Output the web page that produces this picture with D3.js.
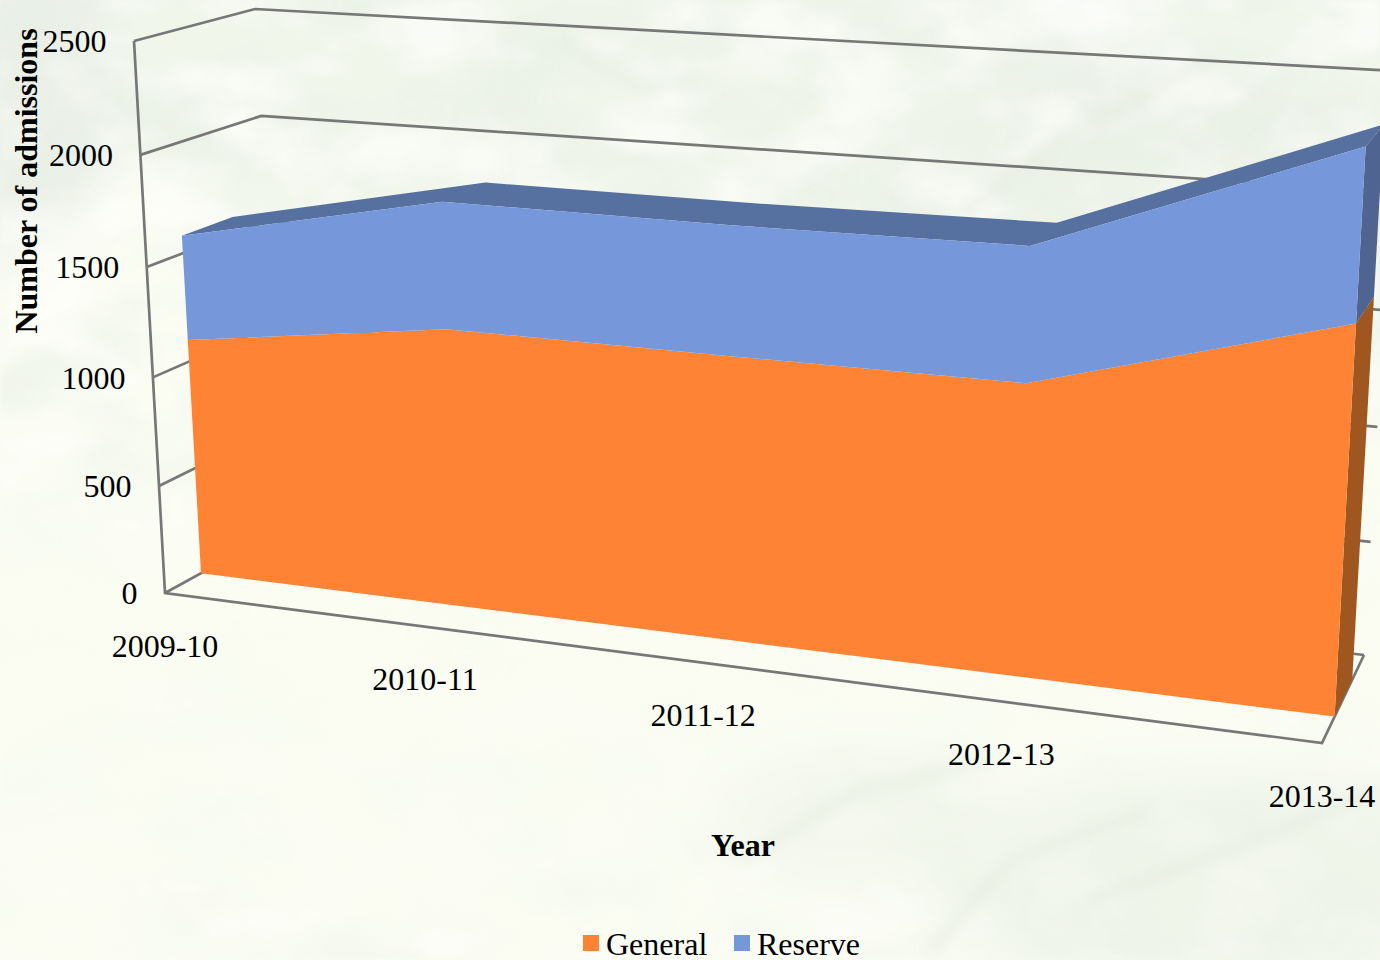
<!DOCTYPE html>
<html><head><meta charset="utf-8">
<script src="https://cdn.jsdelivr.net/npm/d3@7"></script>
<style>html,body{margin:0;padding:0;background:#fbfdf4;overflow:hidden}svg{display:block}text{font-family:"Liberation Serif",serif;fill:#000}</style>
</head><body><svg id="c" width="1380" height="960"></svg>
<script>
const categories = ["2009-10","2010-11","2011-12","2012-13","2013-14"];
const general = [1100,1263,1262,1265,1632];
const reserve = [480,567,565,575,708];
const valueTicks = [0,500,1000,1500,2000,2500];
const seriesNames = ["General","Reserve"];
const colors = {General:"#ff8335",Reserve:"#7698db"};
const topShade = "#56709f", sideBlue = "#4f6490", sideOrange = "#a0561f";
const box = {
  fl:[[165,593],[134,41]], bl:[[285,527],[255,9]],
  fr:[[1322,743],[1355,121]], br:[[1364,655],[1398,71]]
};
const areaFront = 0.3, areaBack = 0.72;

const svg = d3.select("#c");
const xUnit = d3.scalePoint().domain(categories).range([0,1]);
const yUnit = d3.scaleLinear().domain([0,2500]).range([0,1]);
const persp = k => t => t/(1+k*(1-t));
const sx = persp(0.16), sy = persp(0.04);
const lerp = (a,b,t)=>a+(b-a)*t;
function proj(cat,val,z){
  const u = sx(xUnit(cat)), v = sy(yUnit(val));
  const c = i=>{
    const f = lerp(lerp(box.fl[0][i],box.fr[0][i],u),lerp(box.fl[1][i],box.fr[1][i],u),v);
    const b = lerp(lerp(box.bl[0][i],box.br[0][i],u),lerp(box.bl[1][i],box.br[1][i],u),v);
    return lerp(f,b,z);
  };
  return [c(0),c(1)];
}
const line = d3.line().x(d=>d[0]).y(d=>d[1]);
const first = categories[0], last = categories[categories.length-1];

/* background */
const defs = svg.append("defs");
function noise(id,freq,seed,rgb,gain,off){
  const f = defs.append("filter").attr("id",id).attr("x",0).attr("y",0).attr("width","100%").attr("height","100%");
  f.append("feTurbulence").attr("type","fractalNoise").attr("baseFrequency",freq).attr("numOctaves",4).attr("seed",seed);
  f.append("feColorMatrix").attr("type","matrix").attr("values",`0 0 0 0 ${rgb[0]}  0 0 0 0 ${rgb[1]}  0 0 0 0 ${rgb[2]}  ${gain} 0 0 0 ${off}`);
  f.append("feGaussianBlur").attr("stdDeviation",2.5);
}
noise("mottleG","0.007 0.012",11,[0.80,0.86,0.78],2.6,-1.02);
noise("mottleW","0.010 0.016",29,[1,1,0.98],3.0,-1.25);
const blur = defs.append("filter").attr("id","soft").attr("x","-30%").attr("y","-30%").attr("width","160%").attr("height","160%");
blur.append("feGaussianBlur").attr("stdDeviation",28);
const blur2 = defs.append("filter").attr("id","soft2").attr("x","-30%").attr("y","-30%").attr("width","160%").attr("height","160%");
blur2.append("feGaussianBlur").attr("stdDeviation",7);
const fade = defs.append("linearGradient").attr("id","fade").attr("x1",0).attr("y1",0).attr("x2",0).attr("y2",1);
[[0,"#fff",0.6],[0.42,"#fff",0.5],[0.62,"#fff",0.05],[0.78,"#fff",0.12],[1,"#fff",0.3]].forEach(s=>fade.append("stop").attr("offset",s[0]).attr("stop-color",s[1]).attr("stop-opacity",s[2]));
defs.append("mask").attr("id","fadeMask").append("rect").attr("width",1380).attr("height",960).attr("fill","url(#fade)");
svg.append("rect").attr("width",1380).attr("height",960).attr("fill","#fbfdf3");
const bgTone = svg.append("g").attr("filter","url(#soft)");
[[690,60,800,170,"#f1f6eb"],[1150,230,300,180,"#edf3e8"],[30,90,80,170,"#ecf1e8"],[1220,880,300,110,"#f0f5ea"],[860,820,150,70,"#f3f7ec"],[1090,0,70,40,"#ffffff"]]
 .forEach(b=>bgTone.append("ellipse").attr("cx",b[0]).attr("cy",b[1]).attr("rx",b[2]).attr("ry",b[3]).attr("fill",b[4]));
const bgM = svg.append("g").attr("mask","url(#fadeMask)");
bgM.append("rect").attr("width",1380).attr("height",960).attr("filter","url(#mottleG)");
bgM.append("rect").attr("width",1380).attr("height",960).attr("filter","url(#mottleW)");
const streaks = svg.append("g").attr("filter","url(#soft2)").attr("fill","none").attr("stroke","#e2e9db").attr("stroke-width",9).attr("opacity",0.6);
[["M960,215L1060,140L1210,60"],["M560,40L640,90L720,75"],["M740,860L860,790L990,760"],["M930,950L1010,860L1150,810"],["M1090,900L1230,850L1380,790"]]
 .forEach(d=>streaks.append("path").attr("d",d[0]));

/* walls */
const grid = svg.append("g").attr("fill","none").attr("stroke","#777").attr("stroke-width",2.7).attr("stroke-linejoin","miter");
valueTicks.forEach(v=>{
  grid.append("path").attr("d",line([proj(first,v,0),proj(first,v,1),proj(last,v,1)]));
});
grid.append("path").attr("d",line([proj(first,valueTicks[5],0),proj(first,0,0),proj(last,0,0),proj(last,0,1)]));

/* stacked area */
const stack = d3.stack().keys(seriesNames)(categories.map((c,i)=>({cat:c,General:general[i],Reserve:reserve[i]})));
const [gBand,rBand] = stack;
const g = svg.append("g");
const topEdge = rBand.map(d=>d.data.cat).map((c,i)=>[c,rBand[i][1]]);
g.append("path").attr("fill",topShade).attr("d",
  line(topEdge.map(d=>proj(d[0],d[1],areaFront)).concat(topEdge.slice().reverse().map(d=>proj(d[0],d[1],areaBack))))+"Z");
const lastI = categories.length-1;
g.append("path").attr("fill",sideOrange).attr("d",line([proj(last,0,areaFront),proj(last,gBand[lastI][1],areaFront),proj(last,gBand[lastI][1],areaBack),proj(last,0,areaBack)])+"Z");
g.append("path").attr("fill",sideBlue).attr("d",line([proj(last,rBand[lastI][0],areaFront),proj(last,rBand[lastI][1],areaFront),proj(last,rBand[lastI][1],areaBack),proj(last,rBand[lastI][0],areaBack)])+"Z");
stack.forEach(s=>{
  const upper = s.map(d=>proj(d.data.cat,d[1],areaFront));
  const lower = s.map(d=>proj(d.data.cat,d[0],areaFront)).reverse();
  g.append("path").attr("fill",colors[s.key]).attr("d",line(upper.concat(lower))+"Z");
});

/* text */
const fs = 32;
valueTicks.forEach(v=>{
  const p = proj(first,v,0);
  svg.append("text").attr("x",p[0]-27.5).attr("y",p[1]+0.4).attr("dy","0.34em").attr("text-anchor","end").attr("font-size",fs).text(v);
});
categories.forEach(c=>{
  const p = proj(c,0,0), s = sx(xUnit(c));
  svg.append("text").attr("x",p[0]+10*s*(1-s)).attr("y",p[1]+53).attr("dy","0.34em").attr("text-anchor","middle").attr("font-size",fs).text(c);
});
svg.append("text").attr("transform","translate(37,181) rotate(-90)").attr("text-anchor","middle").attr("font-size",fs).attr("font-weight","bold").text("Number of admissions");
svg.append("text").attr("x",743).attr("y",856).attr("text-anchor","middle").attr("font-size",fs).attr("font-weight","bold").text("Year");
const legendX = {General:583,Reserve:734};
seriesNames.forEach(n=>{
  svg.append("rect").attr("x",legendX[n]).attr("y",935).attr("width",16).attr("height",16).attr("fill",colors[n]);
  svg.append("text").attr("x",legendX[n]+23).attr("y",955).attr("font-size",fs).text(n);
});
</script></body></html>
